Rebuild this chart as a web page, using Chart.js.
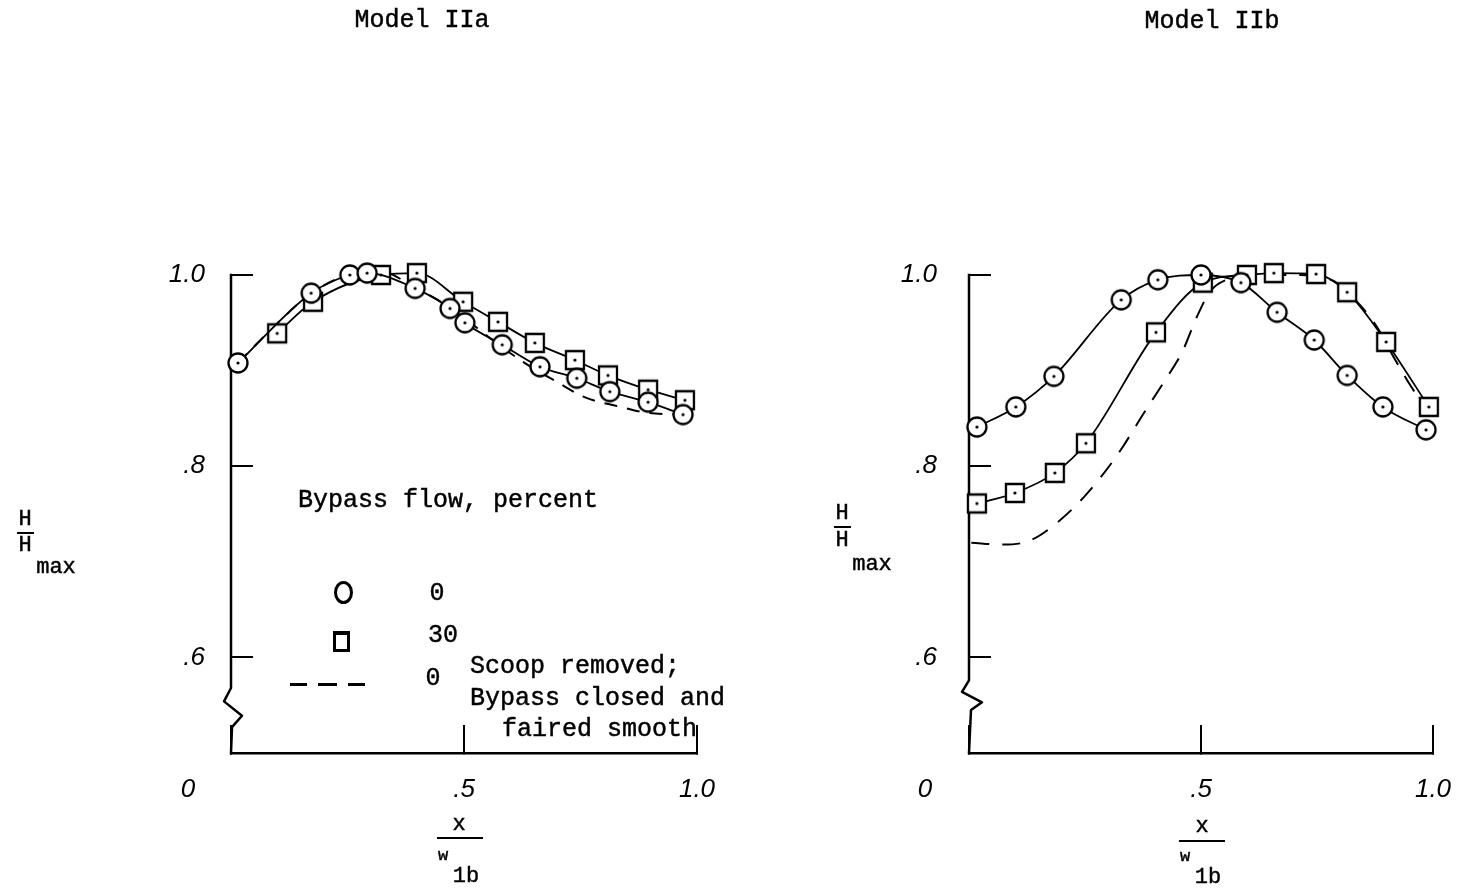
<!DOCTYPE html>
<html>
<head>
<meta charset="utf-8">
<script src="https://cdn.jsdelivr.net/npm/chart.js@4.4.1/dist/chart.umd.min.js"></script>
<style>
html,body{margin:0;padding:0;background:#fff;width:1459px;height:889px;overflow:hidden;}
#wrap{position:relative;width:1459px;height:889px;background:#fff;}
canvas{position:absolute;top:0;}
.t{position:absolute;font-family:'Liberation Mono','DejaVu Sans Mono',monospace;color:#000;white-space:pre;line-height:1;-webkit-text-stroke:0.45px #000;transform:translate(-50%,-50%);}
.l{transform:translate(0,-50%);}
.rule{position:absolute;height:2px;background:#000;}
.sym{position:absolute;box-sizing:border-box;border:3px solid #000;}
</style>
</head>
<body>
<div id="wrap">
  <canvas id="cA" width="740" height="889" style="left:0px"></canvas>
  <canvas id="cB" width="719" height="889" style="left:740px"></canvas>

  <div class="t" style="left:422px;top:20px;font-size:25px">Model IIa</div>
  <div class="t" style="left:1212px;top:21px;font-size:25px">Model IIb</div>

  <!-- y axis titles -->
  <div class="t" style="left:25px;top:520px;font-size:22px">H</div>
  <div class="rule" style="left:17px;top:532px;width:17px"></div>
  <div class="t" style="left:25px;top:546px;font-size:22px">H</div>
  <div class="t" style="left:56px;top:568px;font-size:22px">max</div>

  <div class="t" style="left:842px;top:514px;font-size:22px">H</div>
  <div class="rule" style="left:834px;top:526px;width:17px"></div>
  <div class="t" style="left:842px;top:541px;font-size:22px">H</div>
  <div class="t" style="left:872px;top:565px;font-size:22px">max</div>

  <!-- x axis titles -->
  <div class="t" style="left:459px;top:825px;font-size:22px">x</div>
  <div class="rule" style="left:437px;top:837px;width:46px"></div>
  <div class="t" style="left:443px;top:855px;font-size:17px">w</div>
  <div class="t" style="left:466px;top:877px;font-size:22px">1b</div>

  <div class="t" style="left:1202px;top:827px;font-size:22px">x</div>
  <div class="rule" style="left:1179px;top:840px;width:46px"></div>
  <div class="t" style="left:1185px;top:856px;font-size:17px">w</div>
  <div class="t" style="left:1208px;top:878px;font-size:22px">1b</div>

  <!-- legend -->
  <div class="t" style="left:448px;top:500px;font-size:25px">Bypass flow, percent</div>
  <div class="sym" style="left:334px;top:581px;width:19px;height:23px;border-radius:50%"></div>
  <div class="t" style="left:437px;top:593px;font-size:25px">0</div>
  <div class="sym" style="left:333px;top:631px;width:17px;height:21px;border-top-width:4px"></div>
  <div class="t" style="left:443px;top:635px;font-size:25px">30</div>
  <div class="rule" style="left:290px;top:683px;width:17px;height:3px"></div>
  <div class="rule" style="left:318px;top:683px;width:19px;height:3px"></div>
  <div class="rule" style="left:348px;top:683px;width:17px;height:3px"></div>
  <div class="t" style="left:433px;top:678px;font-size:25px">0</div>
  <div class="t l" style="left:470px;top:666px;font-size:25px">Scoop removed;</div>
  <div class="t l" style="left:470px;top:698px;font-size:25px">Bypass closed and</div>
  <div class="t l" style="left:502px;top:729px;font-size:25px">faired smooth</div>
</div>

<script>
// ---------------- data ----------------
const xTickValues = [0, 0.5, 1.0];
const xTickLabels = ['0', '.5', '1.0'];
const yTickValues = [0.6, 0.8, 1.0];
const yTickLabels = ['.6', '.8', '1.0'];

// Model IIa
const iiaBypass0X  = [0.015, 0.172, 0.255, 0.292, 0.395, 0.470, 0.502, 0.582, 0.663, 0.742, 0.813, 0.895, 0.970];
const iiaBypass0Y  = [0.908, 0.981, 1.000, 1.002, 0.986, 0.965, 0.950, 0.927, 0.904, 0.892, 0.878, 0.867, 0.854];
const iiaBypass30X = [0.099, 0.176, 0.322, 0.399, 0.498, 0.573, 0.652, 0.738, 0.809, 0.895, 0.974];
const iiaBypass30Y = [0.939, 0.972, 1.000, 1.002, 0.972, 0.951, 0.929, 0.911, 0.895, 0.880, 0.869];
const iiaScoopX    = [0.015, 0.090, 0.170, 0.250, 0.320, 0.400, 0.440, 0.500, 0.580, 0.640, 0.700, 0.760, 0.845, 0.890, 0.970];
const iiaScoopY    = [0.908, 0.945, 0.980, 1.000, 1.004, 0.985, 0.975, 0.955, 0.925, 0.905, 0.888, 0.872, 0.861, 0.856, 0.854];

// Model IIb
const iibBypass0X  = [0.017, 0.101, 0.183, 0.328, 0.407, 0.500, 0.586, 0.664, 0.744, 0.815, 0.892, 0.985];
const iibBypass0Y  = [0.841, 0.862, 0.894, 0.974, 0.995, 1.000, 0.992, 0.961, 0.932, 0.895, 0.862, 0.838];
const iibBypass30X = [0.017, 0.099, 0.185, 0.252, 0.403, 0.504, 0.599, 0.657, 0.748, 0.815, 0.899, 0.991];
const iibBypass30Y = [0.761, 0.772, 0.793, 0.824, 0.940, 0.992, 1.000, 1.002, 1.001, 0.982, 0.930, 0.862];
const iibScoopX    = [0.005, 0.070, 0.130, 0.190, 0.250, 0.320, 0.380, 0.420, 0.460, 0.490, 0.520, 0.560, 0.620, 0.700, 0.780, 0.840, 0.880, 0.920, 0.960, 0.990];
const iibScoopY    = [0.720, 0.718, 0.722, 0.741, 0.769, 0.812, 0.858, 0.888, 0.920, 0.955, 0.983, 0.996, 1.000, 1.000, 0.995, 0.970, 0.945, 0.910, 0.878, 0.860];

// ---------------- helpers ----------------
const pts = (xs, ys) => xs.map((x, i) => ({x: x, y: ys[i]}));

function marker(shape) {
  const c = document.createElement('canvas');
  c.width = 26; c.height = 26;
  const g = c.getContext('2d');
  g.fillStyle = '#fff'; g.strokeStyle = '#000'; g.lineWidth = 2.3;
  g.beginPath();
  if (shape === 'circle') g.arc(13, 13, 9.5, 0, Math.PI * 2);
  else g.rect(4, 4, 18, 18);
  g.fill(); g.stroke();
  g.fillStyle = '#000';
  g.beginPath(); g.arc(13, 13, 1.6, 0, Math.PI * 2); g.fill();
  return c;
}
const circleImg = marker('circle');
const squareImg = marker('square');

const tickFont = {family: 'Liberation Sans', style: 'italic', size: 26};

const axisExtras = {
  id: 'axisExtras',
  beforeDatasetsDraw(chart, args, opts) {
    const {ctx, chartArea} = chart;
    const xs = chart.scales.x, ys = chart.scales.y;
    const x0 = xs.getPixelForValue(0);
    const yTop = ys.getPixelForValue(yTickValues[yTickValues.length - 1]);
    ctx.save();
    ctx.strokeStyle = '#000'; ctx.lineWidth = 2.5; ctx.lineJoin = 'round'; ctx.lineCap = 'square';
    ctx.beginPath();
    ctx.moveTo(x0, yTop);
    opts.breakValues.forEach((v, i) => ctx.lineTo(x0 + opts.breakOffsets[i], ys.getPixelForValue(v)));
    ctx.lineTo(x0, chartArea.bottom);
    ctx.stroke();
    ctx.font = 'italic 26px "Liberation Sans"';
    ctx.textAlign = 'center'; ctx.textBaseline = 'middle'; ctx.fillStyle = '#000';
    ctx.fillText(xTickLabels[0], x0 + opts.originDx, chartArea.bottom + opts.originDy);
    ctx.restore();
  }
};

function makeChart(id, d, o) {
  return new Chart(document.getElementById(id), {
    type: 'scatter',
    data: {
      datasets: [
        {label: 'Bypass flow 0 percent', data: pts(d.cx, d.cy), showLine: true,
         borderColor: '#000', borderWidth: 1.8, pointStyle: circleImg, pointRadius: 10,
         cubicInterpolationMode: 'monotone', clip: false, order: 0},
        {label: 'Bypass flow 30 percent', data: pts(d.sx, d.sy), showLine: true,
         borderColor: '#000', borderWidth: 1.8, pointStyle: squareImg, pointRadius: 10,
         cubicInterpolationMode: 'monotone', clip: false, order: 1},
        {label: '0, scoop removed; bypass closed and faired smooth', data: pts(d.dx, d.dy), showLine: true,
         borderColor: '#000', borderWidth: 2, borderDash: o.dash, pointRadius: 0,
         cubicInterpolationMode: 'monotone', clip: false, order: 2}
      ]
    },
    options: {
      responsive: false, animation: false, devicePixelRatio: 1,
      layout: {padding: {top: 275, left: 0, right: o.padRight, bottom: 0}},
      plugins: {
        legend: {display: false}, tooltip: {enabled: false},
        axisExtras: {breakValues: o.breakValues, breakOffsets: o.breakOffsets, originDx: o.originDx, originDy: 37}
      },
      scales: {
        x: {
          type: 'linear', min: 0, max: 1,
          afterFit(s) { s.height = 136; s.paddingLeft = 0; s.paddingRight = 0; },
          afterBuildTicks(s) { s.ticks = xTickValues.map(v => ({value: v})); },
          ticks: {callback: (v, i) => (i === 0 ? '' : xTickLabels[i]), font: tickFont, color: '#000',
                  padding: 49, maxRotation: 0, autoSkip: false},
          grid: {drawOnChartArea: false, drawTicks: true, tickLength: -28, color: '#000', lineWidth: 2},
          border: {display: true, color: '#000', width: 2.5}
        },
        y: {
          type: 'linear', min: 0.5, max: 1.0,
          afterFit(s) { s.width = o.yWidth; s.paddingTop = 0; s.paddingBottom = 0; },
          afterBuildTicks(s) { s.ticks = yTickValues.map(v => ({value: v})); },
          ticks: {callback: (v, i) => yTickLabels[i], font: tickFont, color: '#000',
                  padding: o.yPad, autoSkip: false},
          grid: {drawOnChartArea: false, drawTicks: true, tickLength: -22, color: '#000', lineWidth: 2},
          border: {display: false}
        }
      }
    },
    plugins: [axisExtras]
  });
}

makeChart('cA',
  {cx: iiaBypass0X, cy: iiaBypass0Y, sx: iiaBypass30X, sy: iiaBypass30Y, dx: iiaScoopX, dy: iiaScoopY},
  {padRight: 43, yWidth: 231, yPad: 48, dash: [13, 10], originDx: -43,
   breakValues: [0.568, 0.554, 0.539, 0.527], breakOffsets: [0, -7, 11, 1]});

makeChart('cB',
  {cx: iibBypass0X, cy: iibBypass0Y, sx: iibBypass30X, sy: iibBypass30Y, dx: iibScoopX, dy: iibScoopY},
  {padRight: 26, yWidth: 229, yPad: 54, dash: [18, 13], originDx: -44,
   breakValues: [0.576, 0.564, 0.553, 0.545], breakOffsets: [0, -7, 13, 2]});
</script>
</body>
</html>
